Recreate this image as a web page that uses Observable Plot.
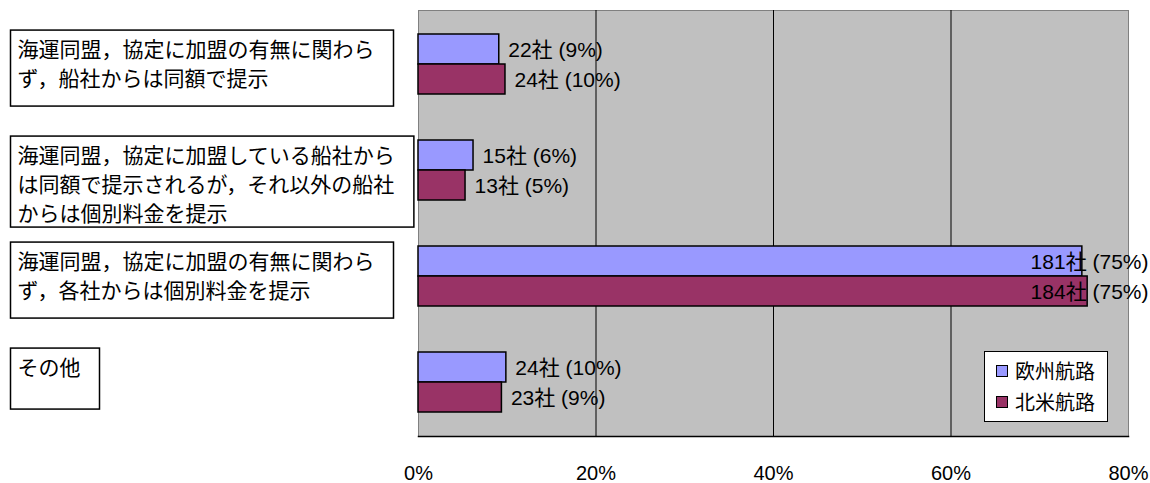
<!DOCTYPE html>
<html><head><meta charset="utf-8">
<script src="https://cdn.jsdelivr.net/npm/d3@7"></script>
<script src="https://cdn.jsdelivr.net/npm/@observablehq/plot@0.6"></script>
<style>
body{margin:0;background:#fff;}
#wrap{position:relative;width:1150px;height:483px;}
.legend{position:absolute;left:984px;top:351px;width:124px;height:71px;border:1px solid #000;background:#fff;font:20px "Noto Sans CJK JP",sans-serif;box-sizing:border-box;padding-top:3px}
.legend .item{display:flex;align-items:center;height:31px;padding-left:11px}
.legend .sw{width:10px;height:10px;border:1px solid #000;margin-right:7px}
</style></head><body><div id="wrap"></div>
<script>
const categories = [
  "海運同盟，協定に加盟の有無に関わら\nず，船社からは同額で提示",
  "海運同盟，協定に加盟している船社から\nは同額で提示されるが，それ以外の船社\nからは個別料金を提示",
  "海運同盟，協定に加盟の有無に関わら\nず，各社からは個別料金を提示",
  "その他"
];
const seriesNames = ["欧州航路", "北米航路"];
const europeCounts = [22, 15, 181, 24];
const europePct = [9.1, 6.2, 74.8, 9.9];
const northAmericaCounts = [24, 13, 184, 23];
const northAmericaPct = [9.8, 5.3, 75.4, 9.4];
const xTicks = [0, 20, 40, 60, 80];
const colors = ["#9999ff", "#993366"];

const rows = categories.flatMap((c, i) => [
  {category: c, series: seriesNames[0], count: europeCounts[i], pct: europePct[i]},
  {category: c, series: seriesNames[1], count: northAmericaCounts[i], pct: northAmericaPct[i]}
]);
const eu = rows.filter(d => d.series === seriesNames[0]);
const na = rows.filter(d => d.series === seriesNames[1]);
const label = d => `${d.count}社 (${Math.round(d.pct)}%)`;
const big = d => d.pct >= 50;
const labelFont = '"Liberation Sans","Noto Sans CJK JP",sans-serif';

const plot = Plot.plot({
  width: 1150, height: 483,
  marginLeft: 418, marginRight: 22, marginTop: 10, marginBottom: 47,
  style: {fontFamily: labelFont, fontSize: "21px", background: "#fff", color: "#000"},
  x: {domain: [xTicks[0], xTicks[xTicks.length - 1]], axis: null},
  y: {domain: categories, paddingInner: 0.4366, paddingOuter: 0.2183, axis: null},
  color: {domain: seriesNames, range: colors},
  marks: [
    Plot.frame({fill: "#c0c0c0", stroke: "#808080"}),
    Plot.ruleX(xTicks.slice(1, -1), {stroke: "#000", strokeWidth: 1}),
    Plot.frame({anchor: "bottom", stroke: "#000", strokeWidth: 1.5}),
    Plot.axisX({ticks: xTicks, tickFormat: d => d + "%", tickSize: 0, tickPadding: 29,
      fontFamily: '"Liberation Sans",sans-serif', fontSize: 20, label: null}),
    Plot.barX(eu, {x: "pct", y: "category", fill: "series", stroke: "#000", strokeWidth: 1.5, insetBottom: 30}),
    Plot.barX(na, {x: "pct", y: "category", fill: "series", stroke: "#000", strokeWidth: 1.5, insetTop: 30}),
    Plot.text(eu.filter(d => !big(d)), {x: "pct", y: "category", text: label, textAnchor: "start", dx: 9, dy: -14, fill: "#000"}),
    Plot.text(na.filter(d => !big(d)), {x: "pct", y: "category", text: label, textAnchor: "start", dx: 9, dy: 16, fill: "#000"}),
    Plot.text(eu.filter(big), {y: "category", text: label, frameAnchor: "right", textAnchor: "end", dx: 20, dy: -14, fill: "#000"}),
    Plot.text(na.filter(big), {y: "category", text: label, frameAnchor: "right", textAnchor: "end", dx: 20, dy: 16, fill: "#000"}),
    Plot.text(categories, {y: d => d, text: d => d, frameAnchor: "left", textAnchor: "start", lineAnchor: "top",
      dx: -401, dy: -28, lineHeight: 1.38, fontSize: 21, fontFamily: '"Noto Sans CJK JP",sans-serif', fill: "#000"})
  ]
});
const wrap = document.getElementById("wrap");
wrap.appendChild(plot);

// boxes around category labels
const svgns = "http://www.w3.org/2000/svg";
const flat = categories.map(c => c.replace(/\n/g, ""));
plot.querySelectorAll("text").forEach(t => {
  if (!flat.includes(t.textContent)) return;
  const b = t.getBBox();
  const n = Math.max(1, t.querySelectorAll("tspan").length);
  const r = document.createElementNS(svgns, "rect");
  r.setAttribute("x", b.x - 7);
  r.setAttribute("y", b.y - 3);
  r.setAttribute("width", b.width + 26);
  r.setAttribute("height", 46 + 15 * n);
  r.setAttribute("fill", "#fff");
  r.setAttribute("stroke", "#000");
  r.setAttribute("stroke-width", 1.5);
  if (t.getAttribute("transform")) r.setAttribute("transform", t.getAttribute("transform"));
  t.parentNode.insertBefore(r, t);
});

// legend
const color = plot.scale("color");
const lg = document.createElement("div");
lg.className = "legend";
color.domain.forEach((s, i) => {
  const it = document.createElement("div");
  it.className = "item";
  const sw = document.createElement("span");
  sw.className = "sw";
  sw.style.background = color.range[i];
  it.appendChild(sw);
  it.appendChild(document.createTextNode(s));
  lg.appendChild(it);
});
wrap.appendChild(lg);
</script>
</body></html>
